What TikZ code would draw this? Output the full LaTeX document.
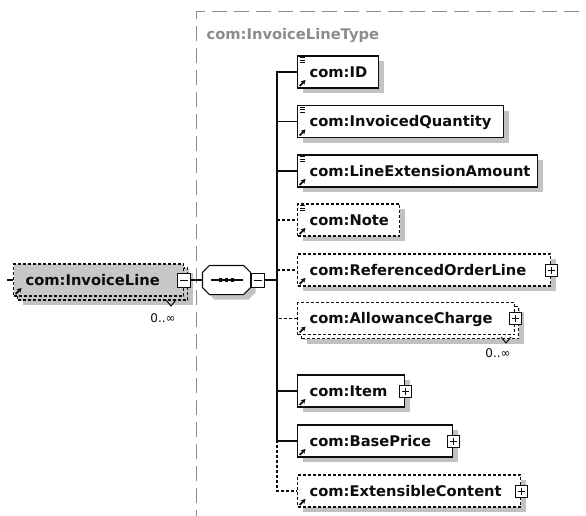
\documentclass[tikz,border=0pt]{standalone}
\usepackage{fontspec}
\setmainfont{DejaVu Sans}
\usetikzlibrary{positioning, arrows.meta, shadows}
\setlength{\parindent}{0pt}
\definecolor{cbord}{gray}{0.05}
\definecolor{cshadow}{gray}{0.76}
\definecolor{cglobal}{gray}{0.78}
\definecolor{ctype}{gray}{0.55}
\newcommand\elfont{\fontsize{14.7}{17}\selectfont\bfseries}
\newcommand\refmark{\draw[-{Stealth[length=4.6pt,width=5.2pt]}, line width=1.7pt, solid]
  ([shift={(2,-2)}]path picture bounding box.south west) -- ++(6,-6);}
\newcommand\simplemark{\foreach \k in {1.8,4.2,6.6}
  \draw[line width=0.8pt, solid] ([shift={(2,\k)}]path picture bounding box.north west) -- ++(5.5,0);}

\begin{document}
\begin{tikzpicture}[x=1pt, y=-1pt, line width=1.1pt, cbord,
    el/.style={draw=cbord, fill=white, anchor=west, minimum height=32pt,
               inner sep=0pt, text height=10.7pt, text depth=0pt, align=left,
               font=\elfont, execute at begin node={\noindent\hspace*{12pt}},
               general shadow={shadow xshift=5pt, shadow yshift=-5pt, draw=none, fill=cshadow},
               path picture={\refmark}},
    simple/.style={path picture={\refmark\simplemark}},
    opt/.style={dash pattern=on 3pt off 2pt},
    many/.style={general shadow={shadow xshift=9pt, shadow yshift=-9pt, draw=none, fill=cshadow},
                 general shadow={shadow xshift=4pt, shadow yshift=-4pt, draw=cbord, fill=#1, opt}},
    many/.default=white,
    plusbox/.style={draw=cbord, fill=white, line width=1pt, minimum size=12pt, inner sep=0pt,
               path picture={\draw[line width=1pt]
                 ([xshift=2.5pt]path picture bounding box.west) -- ([xshift=-2.5pt]path picture bounding box.east)
                 ([yshift=-2.5pt]path picture bounding box.north) -- ([yshift=2.5pt]path picture bounding box.south);}},
    minusbox/.style={draw=cbord, fill=white, line width=1pt, minimum width=13pt,
               minimum height=14pt, inner sep=0pt,
               path picture={\draw[line width=1pt]
                 ([xshift=2.5pt]path picture bounding box.west) -- ([xshift=-2.5pt]path picture bounding box.east);}},
    seqbox/.style={minimum width=47pt, minimum height=28pt, inner sep=0pt},
    seqline/.style={draw=cbord, fill=white,
               general shadow={shadow xshift=5pt, shadow yshift=-5pt, draw=none, fill=cshadow}},
    typeframe/.style={draw=ctype, line width=1pt, dash pattern=on 15pt off 7pt,
               anchor=north west, minimum width=560pt, minimum height=560pt},
    occ/.style={font=\fontsize{12}{14}\selectfont, inner sep=0pt}]

  \path[fill=white, use as bounding box] (0,0) rectangle (586,515);

  % the complex type frame
  \node[typeframe] (lineType) at (196,11) {};
  \node[font=\elfont, text=ctype, anchor=base west, inner sep=0pt] (typeLabel)
    at (206,39) {com:InvoiceLineType};

  % global element and its sequence
  \node[el, opt, fill=cglobal, many=cglobal, text width=170pt] (il) at (13,280) {com:InvoiceLine};
  \node[minusbox] (ilMinus) at (il.east) {};
  \node[occ] (ilOcc) at (163,318) {0..∞};
  \draw[line width=1pt] (166,300) -- (171,306) -- (176,300);
  \coordinate (ilIn) at (7,280);
  \draw (ilIn) -- (il.west);

  \node[seqbox] (seq) at (226.5,280) {};
  \path[seqline] ([xshift=7pt]seq.north west) -- ([xshift=-7pt]seq.north east)
    -- ([yshift=-7pt]seq.north east) -- ([yshift=7pt]seq.south east)
    -- ([xshift=-7pt]seq.south east) -- ([xshift=7pt]seq.south west)
    -- ([yshift=7pt]seq.south west) -- ([yshift=-7pt]seq.north west) -- cycle;
  \draw ([xshift=-16pt]seq.center) -- ([xshift=16pt]seq.center);
  \foreach \k in {-6,0,6}
    \fill ([shift={(\k-1.9,-1.9)}]seq.center) rectangle ++(3.8,3.8);
  \node[minusbox, anchor=west] (seqMinus) at (seq.east) {};
  \coordinate (trunk) at (277,280);
  \draw (ilMinus.east) -- (seq.west);
  \draw (seqMinus.east) -- (trunk);

  % children
  \node[el, simple, text width=81pt] (id) at (297,72) {com:ID};
  \node[el, simple, text width=206pt] (iq) at (297,121.5) {com:InvoicedQuantity};
  \node[el, simple, text width=240pt] (lea) at (297,171) {com:LineExtensionAmount};
  \node[el, simple, opt, text width=102pt] (note) at (297,220) {com:Note};
  \node[el, opt, text width=253pt] (rol) at (297,270) {com:ReferencedOrderLine};
  \node[el, opt, many, text width=217pt] (ac) at (297,318.5) {com:AllowanceCharge};
  \node[el, text width=107pt] (item) at (297,391) {com:Item};
  \node[el, text width=155pt] (bp) at (297,441) {com:BasePrice};
  \node[el, opt, text width=223pt] (ec) at (297,491) {com:ExtensibleContent};

  \node[plusbox] (rolPlus) at (rol.east) {};
  \node[plusbox] (acPlus) at (ac.east) {};
  \node[plusbox] (itemPlus) at (item.east) {};
  \node[plusbox] (bpPlus) at (bp.east) {};
  \node[plusbox] (ecPlus) at (ec.east) {};

  \node[occ] (acOcc) at (498,353) {0..∞};
  \draw[line width=1pt] (501,337) -- (506,343) -- (511,337);

  \draw[opt] (trunk) |- (note.west);
  \draw[opt] (trunk) |- (rol.west);
  \draw[opt] (trunk) |- (ac.west);
  \draw[opt] (trunk) |- (ec.west);
  \draw (trunk) |- (id.west);
  \draw (trunk) |- (iq.west);
  \draw (trunk) |- (lea.west);
  \draw (trunk) |- (item.west);
  \draw (trunk) |- (bp.west);
\end{tikzpicture}
\end{document}
